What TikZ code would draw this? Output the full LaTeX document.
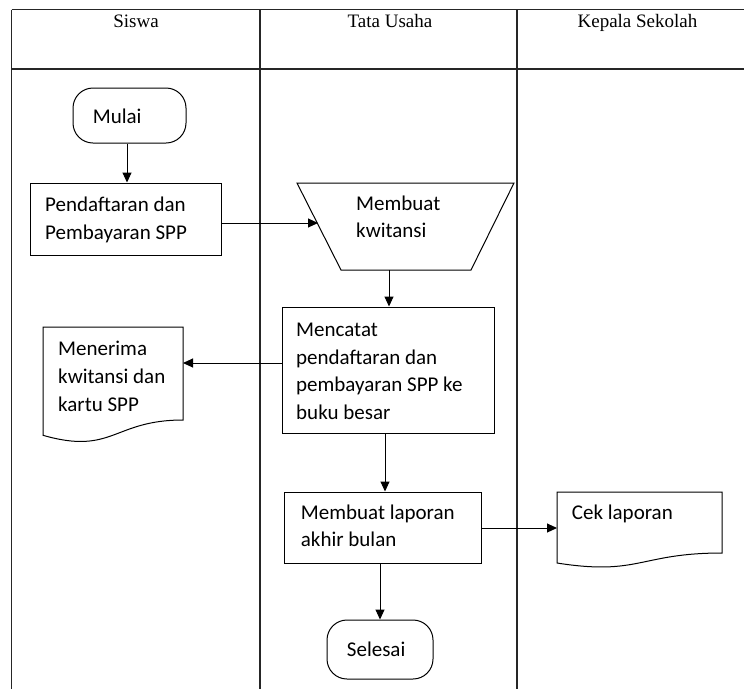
\documentclass[tikz,border=0pt]{standalone}
\usepackage{fontspec}
\setmainfont{Liberation Serif}
\newfontfamily\calibri{Carlito}
\usetikzlibrary{arrows.meta}
\begin{document}
\begin{tikzpicture}[x=1pt,y=-1pt,
  lane/.style={line width=1.6pt, black!85},
  box/.style={draw, line width=1pt, rectangle, inner sep=0pt},
  term/.style={draw, line width=1pt, rounded corners=20pt, inner sep=0pt},
  shp/.style={draw, line width=1pt, line join=miter},
  txt/.style={font=\calibri\fontsize{21}{27.7}\selectfont, align=left, inner sep=0pt, anchor=base west},
  head/.style={font=\fontsize{19}{23}\selectfont, inner sep=0pt, anchor=base},
  arr/.style={line width=1pt, -{Triangle[length=10pt,width=9pt]}}]
\useasboundingbox (0,0) rectangle (744,689);
\fill[white] (0,0) rectangle (744,689);
% swimlane table
\draw[lane] (11.5,9.5) -- (744,9.5);
\draw[lane] (11.5,69) -- (744,69);
\draw[lane] (11.5,9.5) -- (11.5,689);
\draw[lane] (260,9.5) -- (260,689);
\draw[lane] (517,9.5) -- (517,689);
\node[head] (hs) at (136,27) {Siswa};
\node[head] (ht) at (390,27) {Tata Usaha};
\node[head] (hk) at (637.5,27) {Kepala Sekolah};
% shapes (text nodes anchored at the baseline of their last line)
\node[term, minimum width=113pt, minimum height=55pt] (mulai) at (129.5,115.5) {};
\node[txt] (mulaiT) at (92.7,123.3) {Mulai};
\node[box, minimum width=191pt, minimum height=72pt] (daftar) at (125.5,219) {};
\node[txt] (daftarT) at (45,239) {Pendaftaran dan\\Pembayaran SPP};
% trapezoid (manual operation)
\coordinate (kwTL) at (297,183);
\coordinate (kwTR) at (514,183);
\coordinate (kwBR) at (471,270);
\coordinate (kwBL) at (341,270);
\coordinate (kwL) at (318,223);
\coordinate (kwB) at (389,270);
\draw[shp] (kwTL) -- (kwTR) -- (kwBR) -- (kwBL) -- cycle;
\node[txt] (kwT) at (356,237.7) {Membuat\\kwitansi};
\node[box, minimum width=212pt, minimum height=126pt] (catat) at (388,370) {};
\node[txt] (catatT) at (296,419.5) {Mencatat\\pendaftaran dan\\pembayaran SPP ke\\buku besar};
% document: Menerima
\coordinate (terimaR) at (183,363);
\draw[shp] (43,327) -- (183,327) -- (183,420) .. controls (113,420) and (113,455.4) .. (43,435.3) -- cycle;
\node[txt] (terimaT) at (58,411) {Menerima\\kwitansi dan\\kartu SPP};
\node[box, minimum width=197pt, minimum height=71pt] (lapor) at (382.5,527.5) {};
\node[txt] (laporT) at (300.7,546.7) {Membuat laporan\\akhir bulan};
% document: Cek laporan
\coordinate (cekL) at (557,528);
\draw[shp] (557,492) -- (722,492) -- (722,553) .. controls (639.5,553) and (639.5,576) .. (557,563) -- cycle;
\node[txt] (cekT) at (571.7,519.3) {Cek laporan};
\node[term, minimum width=106pt, minimum height=59pt] (selesai) at (380,649.5) {};
\node[txt] (selesaiT) at (346.7,656) {Selesai};
% connectors
\draw[arr] ([xshift=-2.5pt]mulai.south) -- ([xshift=-2.5pt]mulai.south |- daftar.north);
\draw[arr] (daftar.east |- kwL) -- (kwL);
\draw[arr] (kwB) -- (kwB |- catat.north);
\draw[arr] (catat.west |- terimaR) -- (terimaR);
\draw[arr] ([xshift=-3pt]catat.south) -- ([xshift=-3pt]catat.south |- lapor.north);
\draw[arr] (lapor.east |- cekL) -- (cekL);
\draw[arr] (selesai.north |- lapor.south) -- (selesai.north);
\end{tikzpicture}
\end{document}
